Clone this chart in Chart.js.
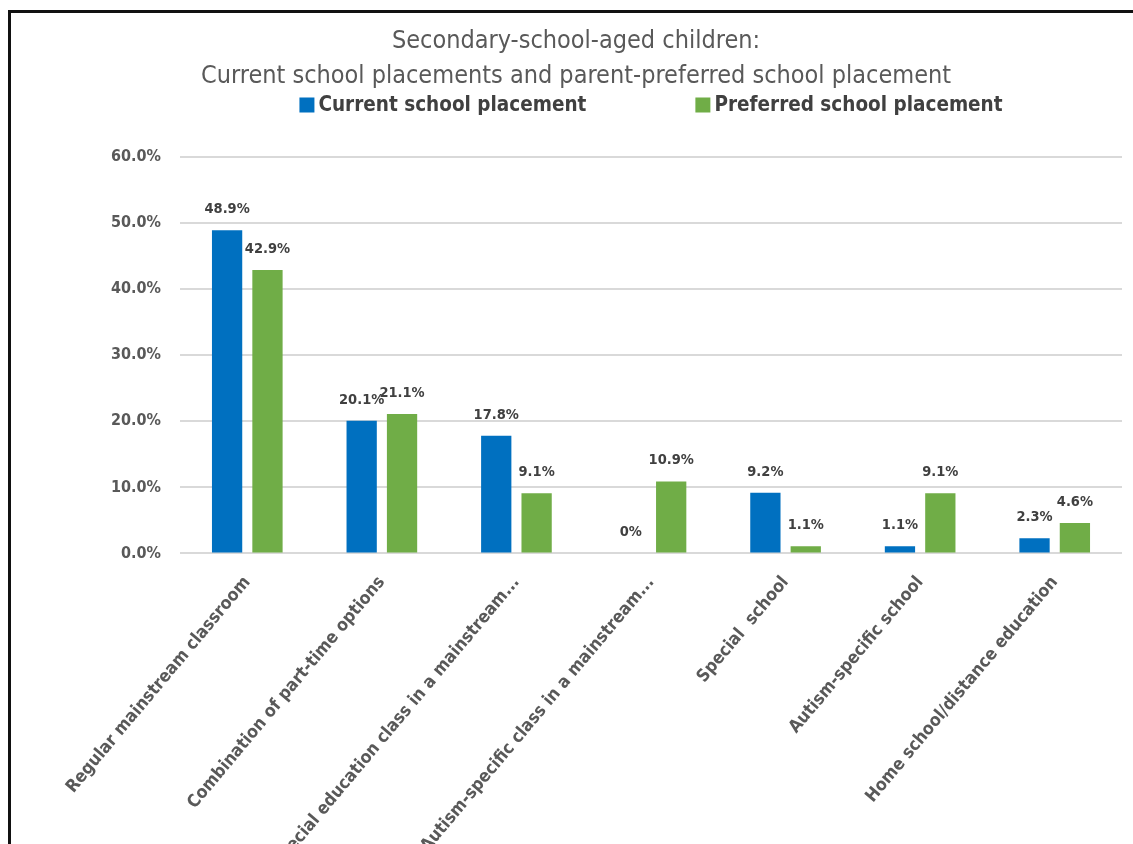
<!DOCTYPE html>
<html>
<head>
<meta charset="utf-8">
<script src="https://cdn.jsdelivr.net/npm/chart.js@4.4.1/dist/chart.umd.min.js"></script>
<style>
  html, body { margin: 0; padding: 0; background: #ffffff; overflow: hidden; }
  #wrap { position: relative; width: 1133px; height: 884px; }
  #frame { position: absolute; left: 8px; top: 10px; width: 1200px; height: 900px;
           border-top: 3px solid #111; border-left: 3px solid #111; pointer-events: none; }
</style>
</head>
<body>
<div id="wrap">
  <canvas id="c"></canvas>
  <div id="frame"></div>
</div>
<script>
const categories = [
  "Regular mainstream classroom",
  "Combination of part-time options",
  "Special education class in a mainstream...",
  "Autism-specific class in a mainstream...",
  "Special  school",
  "Autism-specific school",
  "Home school/distance education"
];
const currentPlacement = [48.9, 20.1, 17.8, 0, 9.2, 1.1, 2.3];
const preferredPlacement = [42.9, 21.1, 9.1, 10.9, 1.1, 9.1, 4.6];
const seriesNames = ["Current school placement", "Preferred school placement"];
const titleLines = ["Secondary-school-aged children:", "Current school placements and parent-preferred school placement"];
const yTickValues = [0, 10, 20, 30, 40, 50, 60];

const FONT = "'DejaVu Sans Condensed', 'DejaVu Sans', sans-serif";
const BLUE = "#0070C0";
const GREEN = "#70AD47";

const dataLabels = {
  id: 'dataLabels',
  afterDatasetsDraw(chart) {
    const ctx = chart.ctx;
    ctx.save();
    ctx.font = "bold 14.5px " + FONT;
    ctx.fillStyle = "#404040";
    ctx.textAlign = "center";
    ctx.textBaseline = "alphabetic";
    chart.data.datasets.forEach((ds, di) => {
      const meta = chart.getDatasetMeta(di);
      meta.data.forEach((el, i) => {
        const v = ds.data[i];
        const txt = v === 0 ? "0%" : v.toFixed(1) + "%";
        ctx.fillText(txt, el.x, el.y - 17);
      });
    });
    ctx.restore();
  }
};

const customLegend = {
  id: 'customLegend',
  afterDraw(chart) {
    const ctx = chart.ctx;
    ctx.save();
    ctx.font = "bold 20.5px " + FONT;
    ctx.textBaseline = "middle";
    ctx.textAlign = "left";
    const box = 15, gapText = 4, gapItems = 109, yc = 105;
    const items = chart.data.datasets.map(ds => ({ text: ds.label, color: ds.backgroundColor }));
    const widths = items.map(it => box + gapText + ctx.measureText(it.text).width);
    const total = widths.reduce((a, b) => a + b, 0) + gapItems * (items.length - 1);
    const ca = chart.chartArea;
    let x = (ca.left + ca.right) / 2 - total / 2;
    items.forEach((it, i) => {
      ctx.fillStyle = it.color;
      ctx.fillRect(x, yc - box / 2, box, box);
      ctx.fillStyle = "#404040";
      ctx.fillText(it.text, x + box + gapText, yc + 1);
      x += widths[i] + gapItems;
    });
    ctx.restore();
  }
};

new Chart(document.getElementById('c'), {
  type: 'bar',
  data: {
    labels: categories,
    datasets: [
      { label: seriesNames[0], data: currentPlacement, backgroundColor: BLUE,
        categoryPercentage: 0.6, barPercentage: 0.75 },
      { label: seriesNames[1], data: preferredPlacement, backgroundColor: GREEN,
        categoryPercentage: 0.6, barPercentage: 0.75 }
    ]
  },
  options: {
    responsive: true,
    maintainAspectRatio: false,
    animation: false,
    devicePixelRatio: 1,
    layout: { padding: { left: 30, right: 11, top: 0, bottom: 0 } },
    plugins: {
      legend: { display: false },
      tooltip: { enabled: false },
      title: {
        display: true,
        text: titleLines,
        color: "#595959",
        font: { family: FONT, size: 25, weight: 'normal', lineHeight: 1.4 },
        padding: { top: 24, bottom: 63 }
      }
    },
    scales: {
      x: {
        grid: { display: false },
        border: { display: false },
        afterFit(scale) { scale.paddingLeft = 0; },
        ticks: {
          color: "#595959",
          font: { family: FONT, size: 17.5, weight: 'bold' },
          minRotation: 50, maxRotation: 50,
          autoSkip: false,
          padding: 11
        }
      },
      y: {
        min: 0, max: 60,
        afterBuildTicks(scale) { scale.ticks = yTickValues.map(v => ({ value: v })); },
        afterFit(scale) { scale.width = 150; },
        grid: { color: "#d9d9d9", lineWidth: 2, drawTicks: false },
        border: { display: false },
        ticks: {
          color: "#595959",
          font: { family: FONT, size: 16, weight: 'bold' },
          padding: 19,
          callback: v => v.toFixed(1) + "%"
        }
      }
    }
  },
  plugins: [dataLabels, customLegend]
});
</script>
</body>
</html>
